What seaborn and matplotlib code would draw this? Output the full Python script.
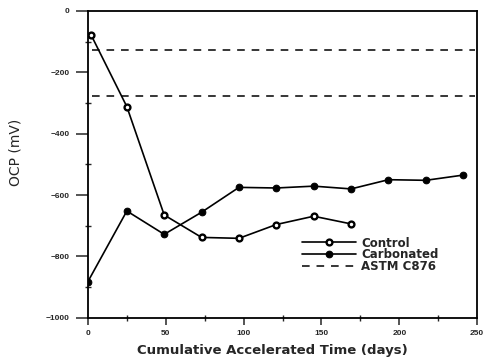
import matplotlib
matplotlib.use("Agg")
import matplotlib.pyplot as plt
import seaborn as sns
import pandas as pd
from matplotlib.ticker import MultipleLocator

sns.set_theme(style="ticks")
plt.rcParams['font.family'] = ['Liberation Sans', 'DejaVu Sans']

control_days = [2, 25, 49, 73, 97, 121, 145, 169]
control_ocp = [-78, -312, -665, -738, -741, -696, -669, -694]
carb_days = [0, 25, 49, 73, 97, 121, 145, 169, 193, 217, 241]
carb_ocp = [-882, -652, -728, -656, -575, -577, -571, -580, -550, -552, -535]
astm_levels = [-126, -276]

df_c = pd.DataFrame({"days": control_days, "ocp": control_ocp})
df_k = pd.DataFrame({"days": carb_days, "ocp": carb_ocp})

fig = plt.figure(figsize=(4.83, 3.62), dpi=100)
ax = fig.add_axes([0.182, 0.122, 0.806, 0.848])

sns.lineplot(data=df_c, x="days", y="ocp", ax=ax, color="black", lw=1.2,
             marker="o", markersize=4.2, markerfacecolor="white",
             markeredgecolor="black", markeredgewidth=1.7, label="Control")
sns.lineplot(data=df_k, x="days", y="ocp", ax=ax, color="black", lw=1.2,
             marker="o", markersize=4.8, markerfacecolor="black",
             markeredgecolor="black", label="Carbonated")
for i, lv in enumerate(astm_levels):
    ax.axhline(lv, xmin=0.01, xmax=0.995, color="black", lw=1.1, ls=(0, (5, 4.5)),
               label="ASTM C876" if i == 0 else None)

ax.set_xlim(0, 250)
ax.set_ylim(-1000, 0)
ax.xaxis.set_major_locator(MultipleLocator(50))
ax.xaxis.set_minor_locator(MultipleLocator(25))
ax.yaxis.set_major_locator(MultipleLocator(200))
ax.yaxis.set_minor_locator(MultipleLocator(100))
ax.tick_params(axis="y", which="major", direction="out", length=9, width=1.1, labelsize=6, pad=4)
ax.tick_params(axis="x", which="major", direction="out", length=5, width=1.1, labelsize=6, pad=4)
ax.tick_params(which="minor", direction="inout", length=4, width=1)
for lab in ax.get_xticklabels() + ax.get_yticklabels():
    lab.set_fontweight("bold")
for s in ax.spines.values():
    s.set_visible(True)
    s.set_linewidth(1.3)
    s.set_color("black")

ax.set_xlabel("Cumulative Accelerated Time (days)", fontsize=9.5, fontweight="bold",
              family=["DejaVu Sans"], labelpad=1)
ax.set_ylabel("OCP (mV)", fontsize=10, family=["DejaVu Sans"])
ax.yaxis.set_label_coords(-0.168, 0.54)
ax.xaxis.set_label_coords(0.475, -0.085)

leg = ax.legend(loc="center left", bbox_to_anchor=(0.55, 0.205), frameon=False,
                borderpad=0, borderaxespad=0,
                prop={"family": "DejaVu Sans", "weight": "bold", "size": 8.5},
                handlelength=4.6, handletextpad=0.4, labelspacing=-0.1)

fig.savefig("out.png", dpi=100)
